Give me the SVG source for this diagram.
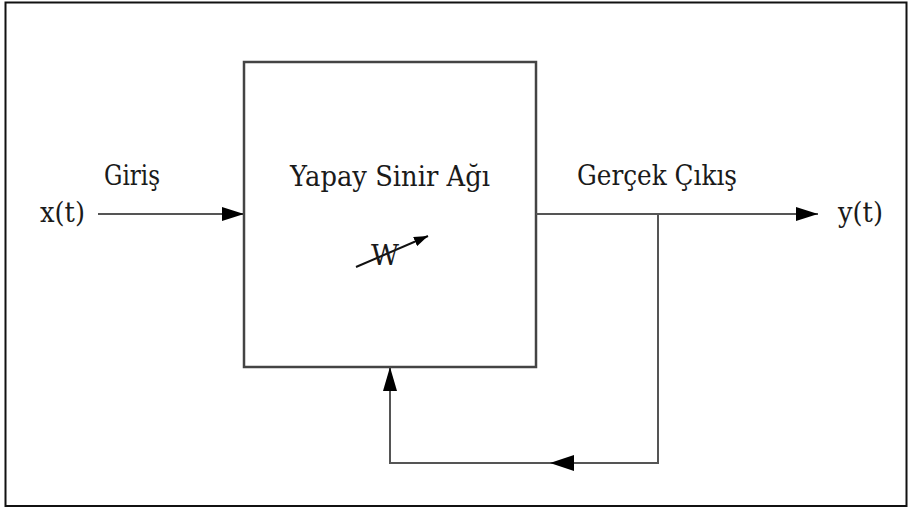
<svg xmlns="http://www.w3.org/2000/svg" width="912" height="510" viewBox="0 0 912 510">
<style>
text{font-family:'DejaVu Serif','Liberation Serif',serif;font-size:28px;fill:#1a1a1a}
.ln{stroke:#555;stroke-width:2;fill:none}
</style>
<defs>
<marker id="ah" markerWidth="22" markerHeight="14" refX="22" refY="7" orient="auto" markerUnits="userSpaceOnUse">
<path d="M0,0 L22,7 L0,14 Z" fill="#000"/>
</marker>
<marker id="sm" markerWidth="14" markerHeight="10" refX="14" refY="5" orient="auto" markerUnits="userSpaceOnUse">
<path d="M0,0 L14,5 L0,10 Z" fill="#000"/>
</marker>
</defs>
<rect width="912" height="510" fill="#fff"/>
<rect x="5.5" y="2.5" width="901" height="503.5" fill="none" stroke="#111" stroke-width="2"/>
<g id="nn">
<rect x="244" y="62" width="292" height="305" fill="#fff" stroke="#444" stroke-width="2.5"/>
<text x="390" y="186" text-anchor="middle" textLength="200" lengthAdjust="spacingAndGlyphs">Yapay Sinir Ağı</text>
<line x1="356" y1="267" x2="428" y2="236" stroke="#111" stroke-width="2" marker-end="url(#sm)"/>
<text x="385" y="265" text-anchor="middle" textLength="28" lengthAdjust="spacingAndGlyphs">W</text>
</g>
<g id="in">
<text x="40" y="222" textLength="45" lengthAdjust="spacingAndGlyphs">x(t)</text>
<text x="104" y="185" textLength="56" lengthAdjust="spacingAndGlyphs">Giriş</text>
</g>
<g id="out">
<text x="577" y="185" textLength="160" lengthAdjust="spacingAndGlyphs">Gerçek Çıkış</text>
<text x="838" y="222" textLength="45" lengthAdjust="spacingAndGlyphs">y(t)</text>
</g>
<g id="connectors">
<line class="ln" x1="98" y1="214" x2="244" y2="214" marker-end="url(#ah)"/>
<line class="ln" x1="536" y1="214" x2="818" y2="214" marker-end="url(#ah)"/>
<polyline class="ln" points="658,214 658,463 390,463 390,367"/>
<path d="M390,367 L383,391 L397,391 Z" fill="#000"/>
<path d="M550,463 L574,455 L574,471 Z" fill="#000"/>
</g>
</svg>
